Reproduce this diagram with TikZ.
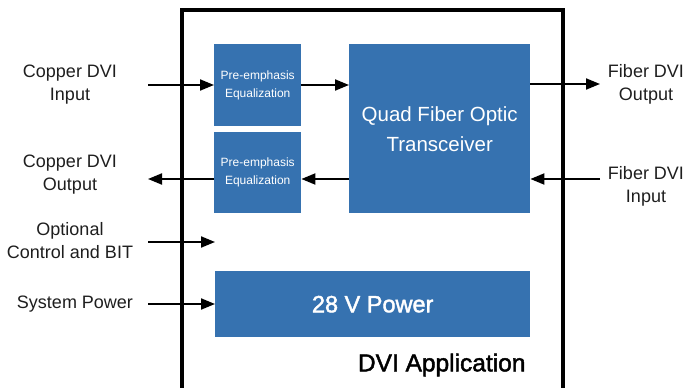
\documentclass[tikz,border=0pt]{standalone}
\usepackage{fontspec}
\setmainfont{Liberation Sans}
\newfontfamily\medfont[FakeBold=1.8]{Liberation Sans}
\usetikzlibrary{arrows.meta}
\definecolor{blk}{RGB}{54,114,176}
\definecolor{txt}{RGB}{30,30,30}
\tikzset{
  blockbox/.style={fill=blk, draw=none, text=white, align=center, anchor=north west, inner sep=0pt},
  lbl/.style={align=center, text=txt, font=\fontsize{18}{23}\selectfont, inner sep=0pt},
  conn/.style={line width=2pt, -{Triangle[length=14pt,width=11pt]}},
}
\begin{document}
\begin{tikzpicture}[x=1pt,y=-1pt]
\useasboundingbox (0,0) rectangle (688,388);
% outer box
\draw[line width=3.8pt] (182,10) rectangle (563,392);
\node[font=\medfont\fontsize{24.5}{28}\selectfont, anchor=east] (app) at (529,365) {DVI Application};
% blocks
\node[blockbox, minimum width=87pt, minimum height=82pt, font=\fontsize{12}{18}\selectfont\color{white!92!blk}] (pe1) at (214,44) {Pre-emphasis\\Equalization};
\node[blockbox, minimum width=87pt, minimum height=81pt, font=\fontsize{12}{18}\selectfont\color{white!92!blk}] (pe2) at (214,132) {Pre-emphasis\\Equalization};
\node[blockbox, minimum width=181pt, minimum height=169pt, font=\fontsize{20.5}{30}\selectfont\color{white!95!blk}] (quad) at (349,44) {Quad Fiber Optic\\Transceiver};
\node[blockbox, minimum width=315pt, minimum height=66pt, font=\medfont\fontsize{23.5}{26}\selectfont] (pwr) at (215,271) {28 V Power};
% labels
\node[lbl] (cin) at (70,85) {Copper DVI\\Input};
\node[lbl] (cout) at (70,175) {Copper DVI\\Output};
\node[lbl] (opt) at (70,241) {Optional\\Control and BIT};
\node[lbl] (sys) at (75,304) {System Power};
\node[lbl] (fout) at (646,84) {Fiber DVI\\Output};
\node[lbl] (fin) at (646,186) {Fiber DVI\\Input};
% free ends
\coordinate (a1) at (148,85);
\coordinate (a2) at (148,179);
\coordinate (a3) at (148,242);
\coordinate (a4) at (148,304);
\coordinate (b1) at (600,84);
\coordinate (b2) at (600,179);
\coordinate (optend) at (215,242);
% connectors
\draw[conn] (a1) -- (pe1.west |- a1);
\draw[conn] (pe1.east |- a1) -- (quad.west |- a1);
\draw[conn] (quad.east |- b1) -- (b1);
\draw[conn] (b2) -- (quad.east |- b2);
\draw[conn] (quad.west |- b2) -- (pe2.east |- b2);
\draw[conn] (pe2.west |- a2) -- (a2);
\draw[conn] (a3) -- (optend);
\draw[conn] (a4) -- (pwr.west |- a4);
\end{tikzpicture}
\end{document}
